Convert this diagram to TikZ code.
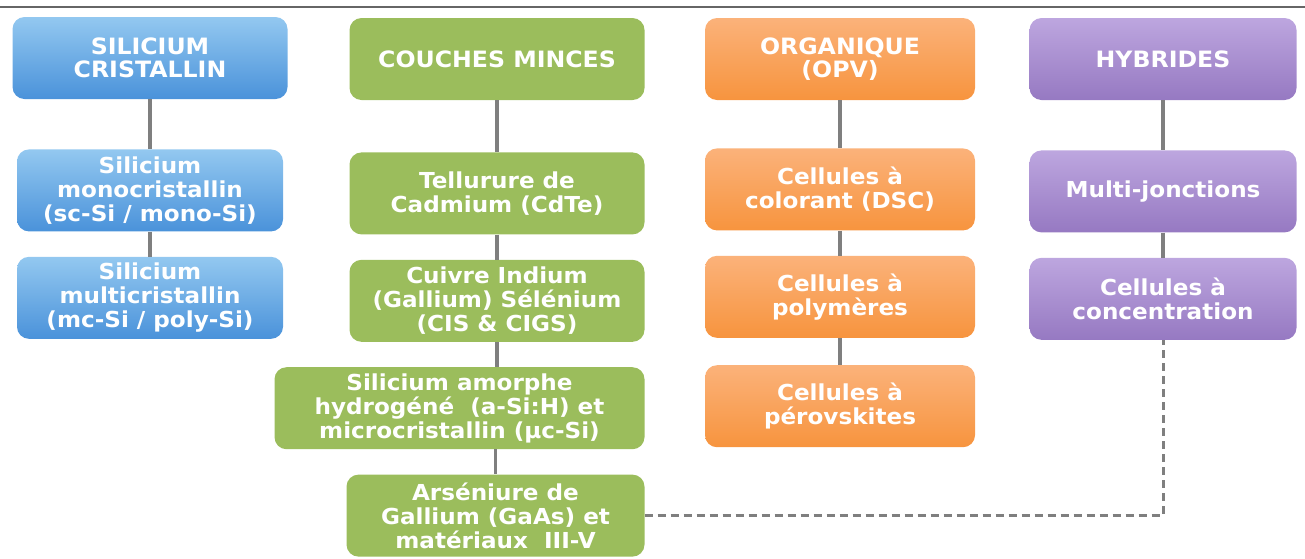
\documentclass[tikz,border=0pt]{standalone}
\usepackage{fontspec}
\newfontfamily\boxfont[FakeStretch=1.05]{DejaVu Sans}
\usepackage{tikz}
\usetikzlibrary{positioning}

\definecolor{bluetop}{HTML}{93C8F0}
\definecolor{bluebot}{HTML}{4A92DA}
\definecolor{greenbox}{HTML}{9BBD5C}
\definecolor{orangetop}{HTML}{FBB27A}
\definecolor{orangebot}{HTML}{F7943E}
\definecolor{purpletop}{HTML}{BDA6DF}
\definecolor{purplebot}{HTML}{9679C2}
\definecolor{linkgray}{HTML}{7F7F7F}

\begin{document}
\begin{tikzpicture}[x=1pt, y=-1pt, node distance=25pt,
		box/.style={rounded corners=12pt, minimum height=82pt, inner sep=2pt, align=center, text=white,
			font=\boxfont\bfseries\fontsize{22}{24}\selectfont},
		head/.style={box, font=\boxfont\bfseries\fontsize{22.5}{23}\selectfont},
		bluebox/.style={top color=bluetop, bottom color=bluebot, minimum width=266pt},
		greenfill/.style={fill=greenbox, minimum width=295pt},
		orangebox/.style={top color=orangetop, bottom color=orangebot, minimum width=270pt},
		purplebox/.style={top color=purpletop, bottom color=purplebot, minimum width=267pt},
		link/.style={draw=linkgray, line width=3.5pt},
		dashlink/.style={draw=linkgray, line width=3pt, dash pattern=on 8pt off 5pt}]
		\useasboundingbox (0,0) rectangle (1305,558);
		\draw[draw=black!60, line width=2pt] (0,7) -- (1305,7);

		\node[head, bluebox, minimum width=275pt] (siCrist) at (150,58) {SILICIUM\\CRISTALLIN};
		\node[box, bluebox, below = 50pt of siCrist] (siMono) {Silicium\\monocristallin\\(sc-Si / mono-Si)};
		\node[box, bluebox, below = of siMono] (siMulti) {Silicium\\multicristallin\\(mc-Si / poly-Si)};

		\node[head, greenfill] (couches) at (497,59) {COUCHES MINCES};
		\node[box, greenfill, below = 52pt of couches] (cdte) {Tellurure de\\Cadmium (CdTe)};
		\node[box, greenfill, below = of cdte] (cigs) {Cuivre Indium\\(Gallium) Sélénium\\(CIS \& CIGS)};
		\node[box, greenfill, minimum width=370pt, below = 25pt of cigs.south east, anchor=north east] (aSi) {Silicium amorphe\\hydrogéné~ (a-Si:H) et\\microcristallin (µc-Si)};
		\node[box, greenfill, minimum width=298pt, below = 25pt of aSi.south east, anchor=north east] (gaas) {Arséniure de\\Gallium (GaAs) et\\matériaux~ III-V};

		\node[head, orangebox] (organique) at (840,59) {ORGANIQUE\\(OPV)};
		\node[box, orangebox, below = 48pt of organique] (dsc) {Cellules à\\colorant (DSC)};
		\node[box, orangebox, below = of dsc] (polym) {Cellules à\\polymères};
		\node[box, orangebox, below = 27pt of polym] (perov) {Cellules à\\pérovskites};

		\node[head, purplebox] (hybrides) at (1163,59) {HYBRIDES};
		\node[box, purplebox, below = 50pt of hybrides] (multij) {Multi-jonctions};
		\node[box, purplebox, below = of multij] (concent) {Cellules à\\concentration};

		\draw[link] (siCrist) to (siMono);
		\draw[link] (siMono) to (siMulti);
		\draw[link] (couches) to (cdte);
		\draw[link] (cdte) to (cigs);
		\draw[link] (cigs.south) to (cigs.south |- aSi.north);
		\draw[link] (aSi.south -| gaas.north) to (gaas.north);
		\draw[link] (organique) to (dsc);
		\draw[link] (dsc) to (polym);
		\draw[link] (polym) to (perov);
		\draw[link] (hybrides) to (multij);
		\draw[link] (multij) to (concent);

		\draw[dashlink] (gaas.east) -| (concent.south);
	\end{tikzpicture}
\end{document}
